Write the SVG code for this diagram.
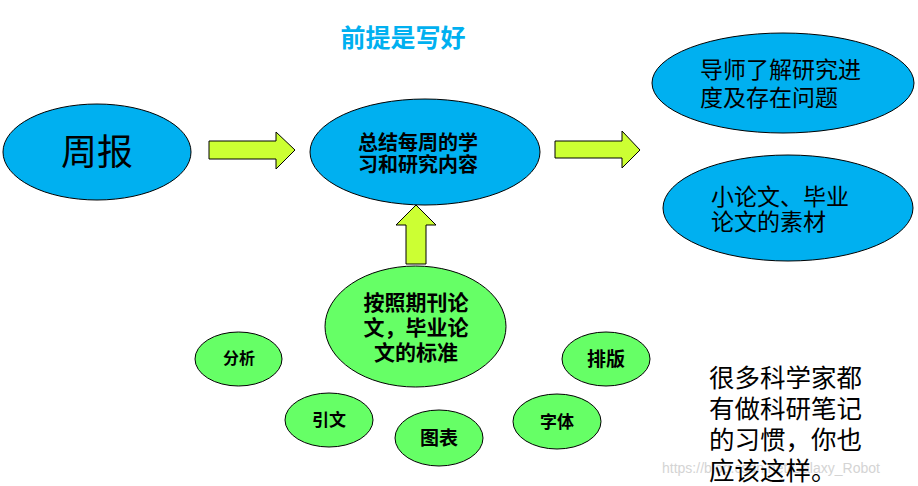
<svg xmlns="http://www.w3.org/2000/svg" width="918" height="486" viewBox="0 0 918 486">
<style>
text{font-family:"Noto Sans CJK SC","Liberation Sans",sans-serif;fill:#000}
.blue{fill:#00b0f0;stroke:#000;stroke-width:1}
.green{fill:#66ff66;stroke:#000;stroke-width:1}
.arrow{fill:#ccff33;stroke:#000;stroke-width:1}
.b{font-weight:bold}
.m{text-anchor:middle}
</style>
<rect width="918" height="486" fill="#fff"/>
<text x="403" y="47" class="b m" font-size="25" style="fill:#00b0f0">前提是写好</text>
<g id="connectors">
<polygon class="arrow" points="209,141 276,141 276,132 295,150 276,169 276,159 209,159"/>
<polygon class="arrow" points="555,141 622,141 622,131 640,150 622,168 622,158 555,158"/>
<polygon class="arrow" points="406,264 406,225 396,225 416,205 436,225 426,225 426,264"/>
</g>
<g id="weekly">
<ellipse class="blue" cx="97" cy="152" rx="94" ry="48"/>
<text x="97" y="165" class="m" font-size="36">周报</text>
</g>
<g id="summary">
<ellipse class="blue" cx="425" cy="152" rx="115" ry="53"/>
<text x="418" y="150" class="b m" font-size="20">总结每周的学</text>
<text x="418" y="172" class="b m" font-size="20">习和研究内容</text>
</g>
<g id="tutor">
<ellipse class="blue" cx="783" cy="83" rx="131" ry="50"/>
<text x="700" y="78" font-size="23">导师了解研究进</text>
<text x="700" y="106" font-size="23">度及存在问题</text>
</g>
<g id="material">
<ellipse class="blue" cx="788" cy="208" rx="125" ry="53"/>
<text x="711" y="205" font-size="23">小论文、毕业</text>
<text x="711" y="230" font-size="23">论文的素材</text>
</g>
<g id="standard">
<ellipse class="green" cx="415.5" cy="326.5" rx="90.5" ry="60.5"/>
<text x="416" y="310" class="b m" font-size="21">按照期刊论</text>
<text x="416" y="335" class="b m" font-size="21">文，毕业论</text>
<text x="416" y="360" class="b m" font-size="21">文的标准</text>
</g>
<g id="analysis">
<ellipse class="green" cx="238.5" cy="359" rx="43.5" ry="27"/>
<text x="239" y="364" class="b m" font-size="16">分析</text>
</g>
<g id="citation">
<ellipse class="green" cx="329" cy="420" rx="44" ry="27"/>
<text x="329" y="426" class="b m" font-size="17">引文</text>
</g>
<g id="figures">
<ellipse class="green" cx="439" cy="438" rx="44" ry="28"/>
<text x="439" y="445" class="b m" font-size="19">图表</text>
</g>
<g id="font">
<ellipse class="green" cx="557" cy="421.5" rx="44" ry="27.5"/>
<text x="557" y="428" class="b m" font-size="17">字体</text>
</g>
<g id="layout">
<ellipse class="green" cx="606" cy="359" rx="44" ry="27"/>
<text x="606" y="366" class="b m" font-size="19">排版</text>
</g>
<text x="662" y="473" font-size="14" style="fill:#d4d4d4;font-family:'Liberation Sans',sans-serif">https://blog.csdn.net/Galaxy_Robot</text>
<g id="note">
<text x="709" y="387" font-size="25.5">很多科学家都</text>
<text x="709" y="418" font-size="25.5">有做科研笔记</text>
<text x="709" y="449" font-size="25.5">的习惯，你也</text>
<text x="709" y="480" font-size="25.5">应该这样。</text>
</g>
</svg>
